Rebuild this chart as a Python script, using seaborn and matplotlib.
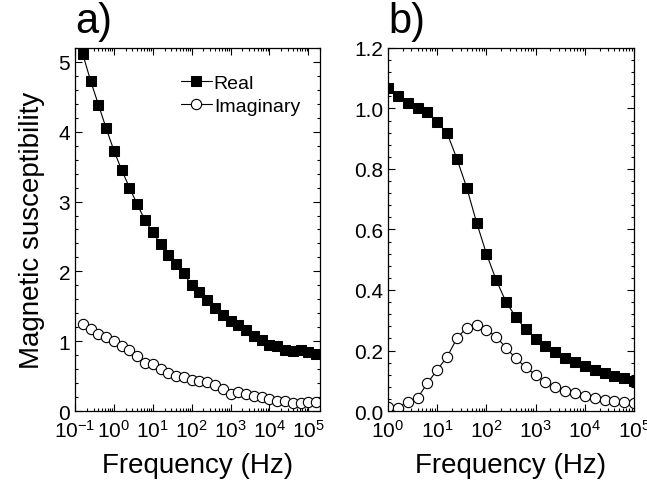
import numpy as np
import pandas as pd
import seaborn as sb
import matplotlib.pyplot as plt
from matplotlib.ticker import MultipleLocator, LogLocator, FormatStrFormatter, NullFormatter

# panel a) data, 5 points per decade from 10^-0.8 to 10^5.2 Hz
aLogFreq = [-0.8, -0.6, -0.4, -0.2, 0.0, 0.2, 0.4, 0.6, 0.8, 1.0,
            1.2, 1.4, 1.6, 1.8, 2.0, 2.2, 2.4, 2.6, 2.8, 3.0,
            3.2, 3.4, 3.6, 3.8, 4.0, 4.2, 4.4, 4.6, 4.8, 5.0, 5.2]
aReal = [5.11, 4.73, 4.39, 4.05, 3.73, 3.45, 3.20, 2.96, 2.73, 2.56,
         2.39, 2.23, 2.10, 1.97, 1.80, 1.70, 1.59, 1.47, 1.37, 1.29,
         1.23, 1.16, 1.08, 1.01, 0.95, 0.93, 0.88, 0.86, 0.87, 0.84, 0.82]
aImag = [1.24, 1.17, 1.11, 1.06, 1.00, 0.93, 0.87, 0.79, 0.69, 0.67,
         0.60, 0.55, 0.50, 0.48, 0.45, 0.43, 0.41, 0.37, 0.31, 0.25,
         0.27, 0.25, 0.22, 0.20, 0.17, 0.15, 0.14, 0.12, 0.12, 0.13, 0.13]

# panel b) data, 10^0 to 10^5 Hz
bLogFreq = [0.0, 0.2, 0.4, 0.6, 0.8, 1.0, 1.2, 1.4, 1.6, 1.8,
            2.0, 2.2, 2.4, 2.6, 2.8, 3.0, 3.2, 3.4, 3.6, 3.8,
            4.0, 4.2, 4.4, 4.6, 4.8, 5.0]
bReal = [1.069, 1.040, 1.018, 1.003, 0.987, 0.954, 0.919, 0.834, 0.738, 0.623,
         0.520, 0.432, 0.360, 0.310, 0.270, 0.238, 0.215, 0.194, 0.176, 0.161,
         0.148, 0.134, 0.124, 0.116, 0.108, 0.100]
bImag = [0.012, 0.010, 0.031, 0.043, 0.092, 0.136, 0.179, 0.240, 0.276, 0.285,
         0.268, 0.246, 0.208, 0.174, 0.144, 0.119, 0.095, 0.078, 0.065, 0.058,
         0.050, 0.042, 0.036, 0.032, 0.029, 0.026]

oDataA = pd.DataFrame({"freq": np.power(10.0, aLogFreq), "real": aReal, "imag": aImag})
oDataB = pd.DataFrame({"freq": np.power(10.0, bLogFreq), "real": bReal, "imag": bImag})

sb.set_style("ticks")
plt.rcParams["font.family"] = ["Liberation Sans", "DejaVu Sans"]
plt.rcParams["mathtext.default"] = "regular"
plt.rcParams["text.color"] = "black"
plt.rcParams["axes.labelcolor"] = "black"

oFig = plt.figure(figsize=(6.47, 4.85), dpi=100)
oAxA = oFig.add_axes([0.116, 0.1505, 0.3786, 0.7485])
oAxB = oFig.add_axes([0.5997, 0.1505, 0.3803, 0.7485])

dReal = dict(marker="s", color="black", linewidth=0.8, markersize=6.5,
             markeredgecolor="black", markerfacecolor="black")
dImag = dict(marker="o", color="black", linewidth=0.8, markersize=7.4,
             markeredgecolor="black", markerfacecolor="white", markeredgewidth=0.8)

for oAx, oData in [(oAxA, oDataA), (oAxB, oDataB)]:
    sb.lineplot(data=oData, x="freq", y="real", ax=oAx, label="Real", **dReal)
    sb.lineplot(data=oData, x="freq", y="imag", ax=oAx, label="Imaginary", **dImag)
    oAx.set_xscale("log")
    oAx.xaxis.set_major_locator(LogLocator(base=10, numticks=20))
    oAx.xaxis.set_minor_locator(LogLocator(base=10, subs=np.arange(2, 10), numticks=20))
    oAx.xaxis.set_minor_formatter(NullFormatter())
    oAx.tick_params(which="both", direction="in", top=True, right=True,
                    labelsize=15, colors="black", width=0.8)
    oAx.tick_params(which="major", length=5)
    oAx.tick_params(which="minor", length=2.5)
    oAx.tick_params(axis="x", which="major", pad=6)
    for oSpine in oAx.spines.values():
        oSpine.set_color("black")
        oSpine.set_linewidth(0.9)
    oAx.set_xlabel("Frequency (Hz)", fontsize=20, labelpad=8)
    oAx.set_ylabel("")

# panel a
oAxA.set_xlim(0.1, 2e5)
oAxA.set_ylim(0, 5.2)
oAxA.yaxis.set_major_locator(MultipleLocator(1))
oAxA.yaxis.set_minor_locator(MultipleLocator(0.2))
oAxA.set_ylabel("Magnetic susceptibility", fontsize=20, labelpad=10)
oAxA.legend(loc="upper left", bbox_to_anchor=(0.4, 0.95), frameon=False,
            fontsize=14, handlelength=1.6, handletextpad=0.1,
            labelspacing=0.3, borderaxespad=0)
oAxA.text(0.0, 1.02, "a)", transform=oAxA.transAxes, fontsize=30, va="bottom")

# panel b
oAxB.set_xlim(1, 1e5)
oAxB.set_ylim(0, 1.2)
oAxB.yaxis.set_major_locator(MultipleLocator(0.2))
oAxB.yaxis.set_minor_locator(MultipleLocator(0.04))
oAxB.yaxis.set_major_formatter(FormatStrFormatter("%.1f"))
oAxB.get_legend().remove()
oAxB.text(0.0, 1.02, "b)", transform=oAxB.transAxes, fontsize=30, va="bottom")

oFig.savefig("out.png", dpi=100)
